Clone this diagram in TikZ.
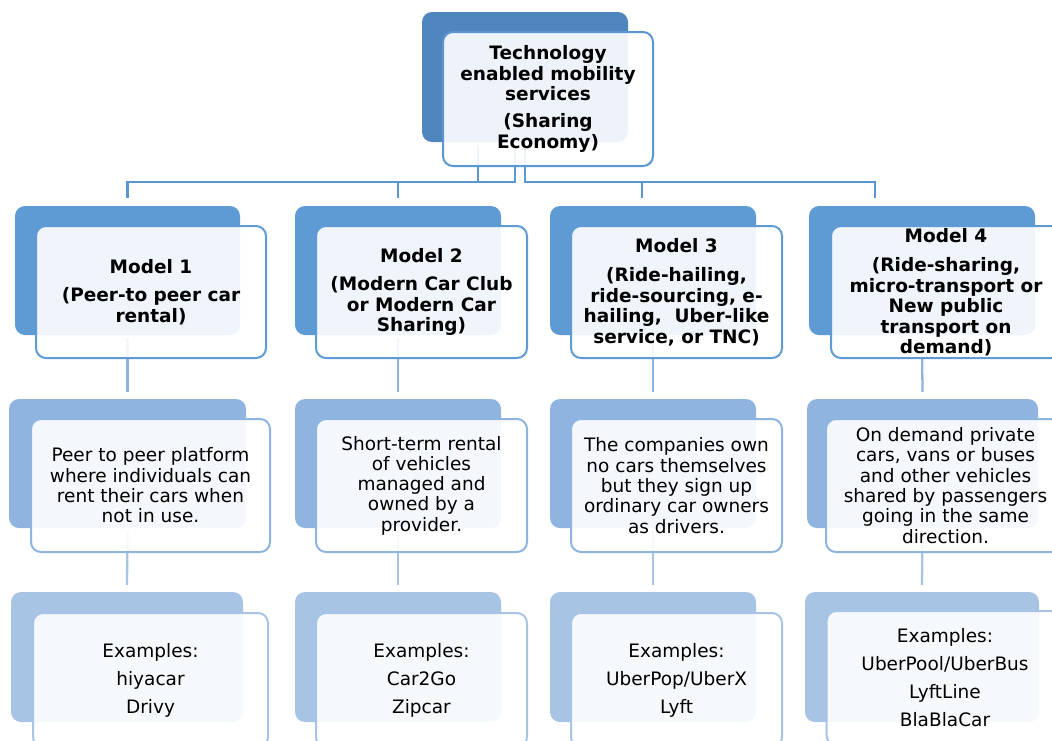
\documentclass[tikz,border=0pt]{standalone}
\usepackage{fontspec}
\setmainfont{DejaVu Sans}
\usepackage{tikz}

\definecolor{topback}{HTML}{4F86BE}
\definecolor{modelback}{HTML}{5E9BD5}
\definecolor{descback}{HTML}{8FB4E0}
\definecolor{exback}{HTML}{A8C4E5}
\definecolor{topline}{HTML}{5A97D0}
\definecolor{descline}{HTML}{8EB4E2}
\definecolor{exline}{HTML}{A7C4E7}

\pgfdeclarelayer{background}
\pgfsetlayers{background,main}

\tikzset{
	backbox/.style = {rectangle, rounded corners = 10pt, inner sep = 0pt},
	frontbox/.style = {rectangle, rounded corners = 10pt, inner sep = 0pt, line width = 2pt, fill = white, fill opacity = 0.9, text opacity = 1, align = center},
	titletext/.style = {font = \bfseries\fontsize{18.5}{20.5}\selectfont},
	desctext/.style = {font = \fontsize{18.5}{20.3}\selectfont},
	extext/.style = {font = \fontsize{18.5}{28}\selectfont},
	bus/.style = {draw = topline, line width = 2.3pt},
	link/.style = {line width = 2.3pt}
}

\begin{document}
\begin{tikzpicture}[x = 1pt, y = -1pt]
				\useasboundingbox (0,0) rectangle (1052,740);
				% back shapes
				\node[backbox, fill = topback, minimum width = 206pt, minimum height = 130pt] (tb) at (525,77) {};
				\node[backbox, fill = modelback, minimum width = 225pt, minimum height = 129pt] (m1b) at (127.5,270.5) {};
				\node[backbox, fill = modelback, minimum width = 206pt, minimum height = 129pt] (m2b) at (398,270.5) {};
				\node[backbox, fill = modelback, minimum width = 206pt, minimum height = 129pt] (m3b) at (653,270.5) {};
				\node[backbox, fill = modelback, minimum width = 226pt, minimum height = 129pt] (m4b) at (922,270.5) {};
				\node[backbox, fill = descback, minimum width = 237pt, minimum height = 129pt] (d1b) at (127.5,463.5) {};
				\node[backbox, fill = descback, minimum width = 206pt, minimum height = 129pt] (d2b) at (398,463.5) {};
				\node[backbox, fill = descback, minimum width = 206pt, minimum height = 129pt] (d3b) at (653,463.5) {};
				\node[backbox, fill = descback, minimum width = 231pt, minimum height = 129pt] (d4b) at (922.5,463.5) {};
				\node[backbox, fill = exback, minimum width = 232pt, minimum height = 130pt] (e1b) at (127,657) {};
				\node[backbox, fill = exback, minimum width = 206pt, minimum height = 130pt] (e2b) at (398,657) {};
				\node[backbox, fill = exback, minimum width = 206pt, minimum height = 130pt] (e3b) at (653,657) {};
				\node[backbox, fill = exback, minimum width = 234pt, minimum height = 130pt] (e4b) at (922,657) {};
				% connectors, under the shapes
				\begin{pgfonlayer}{background}
					\draw[bus] ([xshift = -47pt, yshift = -3pt] tb.south) |- ([yshift = 24pt] m1b.north) -- ([yshift = 8pt] m1b.north);
					\draw[bus] ([xshift = -10pt, yshift = -3pt] tb.south) |- ([yshift = 24pt] m2b.north) -- ([yshift = 8pt] m2b.north);
					\draw[bus] ([yshift = -3pt] tb.south) |- ([xshift = -11pt, yshift = 24pt] m3b.north) -- ([xshift = -11pt, yshift = 8pt] m3b.north);
					\draw[bus] ([yshift = -3pt] tb.south) |- ([xshift = -47pt, yshift = 24pt] m4b.north) -- ([xshift = -47pt, yshift = 8pt] m4b.north);
					\foreach \i in {1,...,4} {
						\draw[link, descline] ([yshift = -3pt] m\i b.south) -- ([yshift = 7pt] d\i b.north);
						\draw[link, exline] ([yshift = -3pt] d\i b.south) -- ([yshift = 7pt] e\i b.north);
					}
				\end{pgfonlayer}
				% front shapes
				\node[frontbox, titletext, draw = topline, minimum width = 210pt, minimum height = 134pt] (tf) at ([shift = {(23,22)}] tb.center) {Technology\\enabled mobility\\services\\[6.5pt](Sharing\\Economy)};
				\node[frontbox, titletext, draw = modelback, minimum width = 230pt, minimum height = 132pt] (m1f) at ([shift = {(23.5,21.5)}] m1b.center) {Model 1\\[8pt](Peer-to peer car\\rental)};
				\node[frontbox, titletext, draw = modelback, minimum width = 211pt, minimum height = 132pt] (m2f) at ([shift = {(23.5,21.5)}] m2b.center) {Model 2\\[8pt](Modern Car Club\\or Modern Car\\Sharing)};
				\node[frontbox, titletext, draw = modelback, minimum width = 211pt, minimum height = 132pt] (m3f) at ([shift = {(23.5,21.5)}] m3b.center) {Model 3\\[9pt](Ride-hailing,\\ride-sourcing, e-\\hailing,\ \ Uber-like\\service, or TNC)};
				\node[frontbox, titletext, draw = modelback, minimum width = 230pt, minimum height = 132pt] (m4f) at ([shift = {(24,21.5)}] m4b.center) {Model 4\\[9pt](Ride-sharing,\\micro-transport or\\New public\\transport on\\demand)};
				\node[frontbox, desctext, draw = descline, minimum width = 239pt, minimum height = 133pt] (d1f) at ([shift = {(23,22)}] d1b.center) {Peer to peer platform\\where individuals can\\rent their cars when\\not in use.};
				\node[frontbox, desctext, draw = descline, minimum width = 211pt, minimum height = 133pt] (d2f) at ([shift = {(23.5,22)}] d2b.center) {Short-term rental\\of vehicles\\managed and\\owned by a\\provider.};
				\node[frontbox, desctext, draw = descline, minimum width = 211pt, minimum height = 133pt] (d3f) at ([shift = {(23.5,22)}] d3b.center) {The companies own\\no cars themselves\\but they sign up\\ordinary car owners\\as drivers.};
				\node[frontbox, desctext, draw = descline, minimum width = 239pt, minimum height = 133pt] (d4f) at ([shift = {(23,22)}] d4b.center) {On demand private\\cars, vans or buses\\and other vehicles\\shared by passengers\\going in the same\\direction.};
				\node[frontbox, extext, draw = exline, minimum width = 235pt, minimum height = 134pt] (e1f) at ([shift = {(23.5,23)}] e1b.center) {Examples:\\hiyacar\\Drivy};
				\node[frontbox, extext, draw = exline, minimum width = 211pt, minimum height = 134pt] (e2f) at ([shift = {(23.5,23)}] e2b.center) {Examples:\\Car2Go\\Zipcar};
				\node[frontbox, extext, draw = exline, minimum width = 211pt, minimum height = 134pt] (e3f) at ([shift = {(23.5,23)}] e3b.center) {Examples:\\UberPop/UberX\\Lyft};
				\node[frontbox, extext, draw = exline, minimum width = 237pt, minimum height = 134pt] (e4f) at ([shift = {(23,21)}] e4b.center) {Examples:\\UberPool/UberBus\\LyftLine\\BlaBlaCar};
			\end{tikzpicture}
\end{document}
